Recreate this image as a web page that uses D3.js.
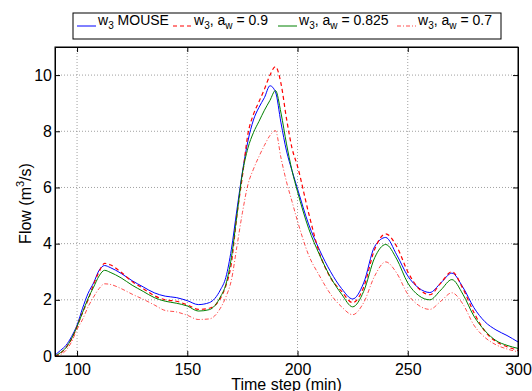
<!DOCTYPE html>
<html>
<head>
<meta charset="utf-8">
<script src="https://cdn.jsdelivr.net/npm/d3@7"></script>
<style>
  body { margin: 0; background: #fff; }
  text { font-family: "Liberation Sans", Arial, sans-serif; }
</style>
</head>
<body>
<div class="chart"></div>
<script>
const timeSteps = [90, 92.5, 95, 97.5, 100, 102.5, 105, 107.5, 110, 112.5, 115, 120, 125, 130, 135, 140, 145, 150, 155, 160,
  165, 167.5, 170, 172.5, 175, 177.5, 180, 182.5, 185, 187.5, 190, 192.5, 195, 197.5, 200, 205, 210, 215, 220, 225,
  230, 235, 240, 245, 250, 255, 260, 265, 270, 275, 280, 285, 290, 295, 300];

const mouse = [0.03, 0.2, 0.38, 0.69, 1.1, 1.7, 2.23, 2.6, 3.05, 3.22, 3.15, 2.94, 2.68, 2.46, 2.25, 2.13, 2.08, 1.97, 1.83, 1.9,
  2.35, 2.8, 3.8, 5.2, 6.55, 7.65, 8.4, 8.85, 9.2, 9.62, 9.4, 8.3, 7.3, 6.6, 5.95, 4.7, 3.77, 3.0, 2.4, 2.03,
  2.6, 3.9, 4.22, 3.6, 2.85, 2.42, 2.26, 2.6, 2.95, 2.45, 1.72, 1.22, 0.93, 0.73, 0.5];

const aw09 = [0.0, 0.1, 0.3, 0.6, 1.05, 1.55, 2.0, 2.55, 3.0, 3.3, 3.25, 2.98, 2.65, 2.4, 2.15, 2.0, 1.95, 1.82, 1.66, 1.7,
  2.05, 2.5, 3.3, 5.0, 6.4, 7.9, 8.6, 9.05, 9.5, 10.0, 10.3, 9.7, 8.45, 7.4, 6.75, 5.1, 3.65, 2.78, 2.3, 1.9,
  2.45, 3.8, 4.35, 3.9, 3.0, 2.4, 2.18, 2.6, 3.0, 2.4, 1.55, 0.88, 0.52, 0.33, 0.2];

const aw0825 = [0.0, 0.12, 0.3, 0.62, 1.05, 1.55, 2.05, 2.45, 2.85, 3.05, 2.98, 2.78, 2.52, 2.3, 2.08, 1.95, 1.88, 1.78, 1.6, 1.65,
  2.1, 2.55, 3.5, 5.0, 6.5, 7.4, 7.95, 8.35, 8.75, 9.1, 9.45, 8.65, 7.55, 6.6, 5.85, 4.55, 3.6, 2.8, 2.2, 1.75,
  2.3, 3.5, 3.97, 3.45, 2.6, 2.15, 2.0, 2.35, 2.72, 2.2, 1.42, 0.9, 0.55, 0.38, 0.27];

const aw07 = [0.0, 0.05, 0.2, 0.5, 0.95, 1.3, 1.75, 2.1, 2.4, 2.57, 2.55, 2.4, 2.2, 2.02, 1.82, 1.62, 1.57, 1.45, 1.3, 1.32,
  1.7, 2.1, 2.7, 3.9, 5.1, 6.1, 6.65, 7.1, 7.5, 7.85, 8.02, 7.05, 6.2, 5.5, 4.8, 3.6, 2.85, 2.2, 1.75, 1.47,
  1.9, 2.85, 3.35, 2.95, 2.2, 1.8, 1.66, 1.95, 2.25, 1.85, 1.1, 0.66, 0.4, 0.25, 0.15];

const xTicks = [100, 150, 200, 250, 300];
const yTicks = [0, 2, 4, 6, 8, 10];

const width = 532;
const height = 391;
const margin = {top: 47, right: 14, bottom: 35, left: 55};

const series = [
  {values: mouse, color: "#0000ff", dash: null, w: 1, label: ["w", "3", " MOUSE"]},
  {values: aw09, color: "#ff0000", dash: "4,3", w: 1.2, label: ["w", "3", ", a", "w", " = 0.9"]},
  {values: aw0825, color: "#008000", dash: null, w: 1, label: ["w", "3", ", a", "w", " = 0.825"]},
  {values: aw07, color: "#ff0000", dash: "4,2,1,2", w: 0.7, label: ["w", "3", ", a", "w", " = 0.7"]},
];

const svg = d3.select(".chart")
  .append("svg")
  .attr("width", width)
  .attr("height", height);

const x = d3.scaleLinear()
  .domain([90, 300])
  .range([margin.left, width - margin.right]);

const y = d3.scaleLinear()
  .domain([0, 11])
  .range([height - margin.bottom, margin.top]);

// grid
svg.append("g")
  .selectAll("line")
  .data(xTicks.filter(d => d < 300))
  .join("line")
  .attr("x1", d => x(d)).attr("x2", d => x(d))
  .attr("y1", y(11)).attr("y2", y(0))
  .attr("stroke", "#888").attr("stroke-width", 0.8)
  .attr("stroke-dasharray", "1,2");

svg.append("g")
  .selectAll("line")
  .data(yTicks.filter(d => d > 0))
  .join("line")
  .attr("x1", x(90)).attr("x2", x(300))
  .attr("y1", d => y(d)).attr("y2", d => y(d))
  .attr("stroke", "#888").attr("stroke-width", 0.8)
  .attr("stroke-dasharray", "1,2");

svg.append("clipPath").attr("id", "plot")
  .append("rect")
  .attr("x", x(90)).attr("y", y(11))
  .attr("width", x(300) - x(90)).attr("height", y(0) - y(11));

const line = d3.line()
  .x((d, i) => x(timeSteps[i]))
  .y(d => y(d))
  .curve(d3.curveMonotoneX);

svg.append("g")
  .attr("clip-path", "url(#plot)")
  .selectAll("path")
  .data(series)
  .join("path")
  .attr("fill", "none")
  .attr("stroke", d => d.color)
  .attr("stroke-width", d => d.w)
  .attr("stroke-dasharray", d => d.dash)
  .attr("d", d => line(d.values));

// axes, inward ticks on all four sides
svg.append("g")
  .attr("transform", `translate(0, ${y(0)})`)
  .call(d3.axisBottom(x).tickValues(xTicks).tickSizeInner(-5).tickSizeOuter(0).tickPadding(8))
  .call(g => g.selectAll("text").attr("font-size", 16).attr("fill", "#000"));

svg.append("g")
  .attr("transform", `translate(0, ${y(11)})`)
  .call(d3.axisTop(x).tickValues(xTicks).tickSizeInner(-5).tickSizeOuter(0).tickFormat(""));

svg.append("g")
  .attr("transform", `translate(${x(90)}, 0)`)
  .call(d3.axisLeft(y).tickValues(yTicks).tickSizeInner(-5).tickSizeOuter(0).tickPadding(3))
  .call(g => g.selectAll("text").attr("font-size", 16).attr("fill", "#000"));

svg.append("g")
  .attr("transform", `translate(${x(300)}, 0)`)
  .call(d3.axisRight(y).tickValues(yTicks).tickSizeInner(-5).tickSizeOuter(0).tickFormat(""));

svg.selectAll(".domain").attr("stroke", "#000");
svg.selectAll(".tick line").attr("stroke", "#000");

svg.append("rect")
  .attr("x", x(90)).attr("y", y(11))
  .attr("width", x(300) - x(90)).attr("height", y(0) - y(11))
  .attr("fill", "none").attr("stroke", "#000").attr("stroke-width", 1);

// axis titles
svg.append("text")
  .attr("x", (x(90) + x(300)) / 2)
  .attr("y", 390)
  .attr("text-anchor", "middle")
  .attr("font-size", 16)
  .text("Time step (min)");

const yl = svg.append("text")
  .attr("transform", `translate(31, ${(y(0) + y(11)) / 2 + 2}) rotate(-90)`)
  .attr("text-anchor", "middle")
  .attr("font-size", 16);
yl.append("tspan").text("Flow (m");
yl.append("tspan").attr("font-size", 11).attr("dy", -7).text("3");
yl.append("tspan").attr("dy", 7).text("/s)");

// legend
svg.append("rect")
  .attr("x", 73).attr("y", 13).attr("width", 428).attr("height", 26)
  .attr("fill", "#fff").attr("stroke", "#000").attr("stroke-width", 1);

const legendX = [77, 173, 278, 397];
series.forEach((s, i) => {
  const lx = legendX[i];
  svg.append("line")
    .attr("x1", lx).attr("x2", lx + 19)
    .attr("y1", 26).attr("y2", 26)
    .attr("stroke", s.color).attr("stroke-width", s.w)
    .attr("stroke-dasharray", s.dash);
  const t = svg.append("text")
    .attr("x", lx + 21).attr("y", 25)
    .attr("font-size", 14);
  s.label.forEach((part, k) => {
    const sub = k % 2 === 1;
    t.append("tspan")
      .attr("font-size", sub ? 10 : 14)
      .attr("dy", k === 0 ? 0 : (sub ? 4 : -4))
      .text(part);
  });
});
</script>
</body>
</html>
